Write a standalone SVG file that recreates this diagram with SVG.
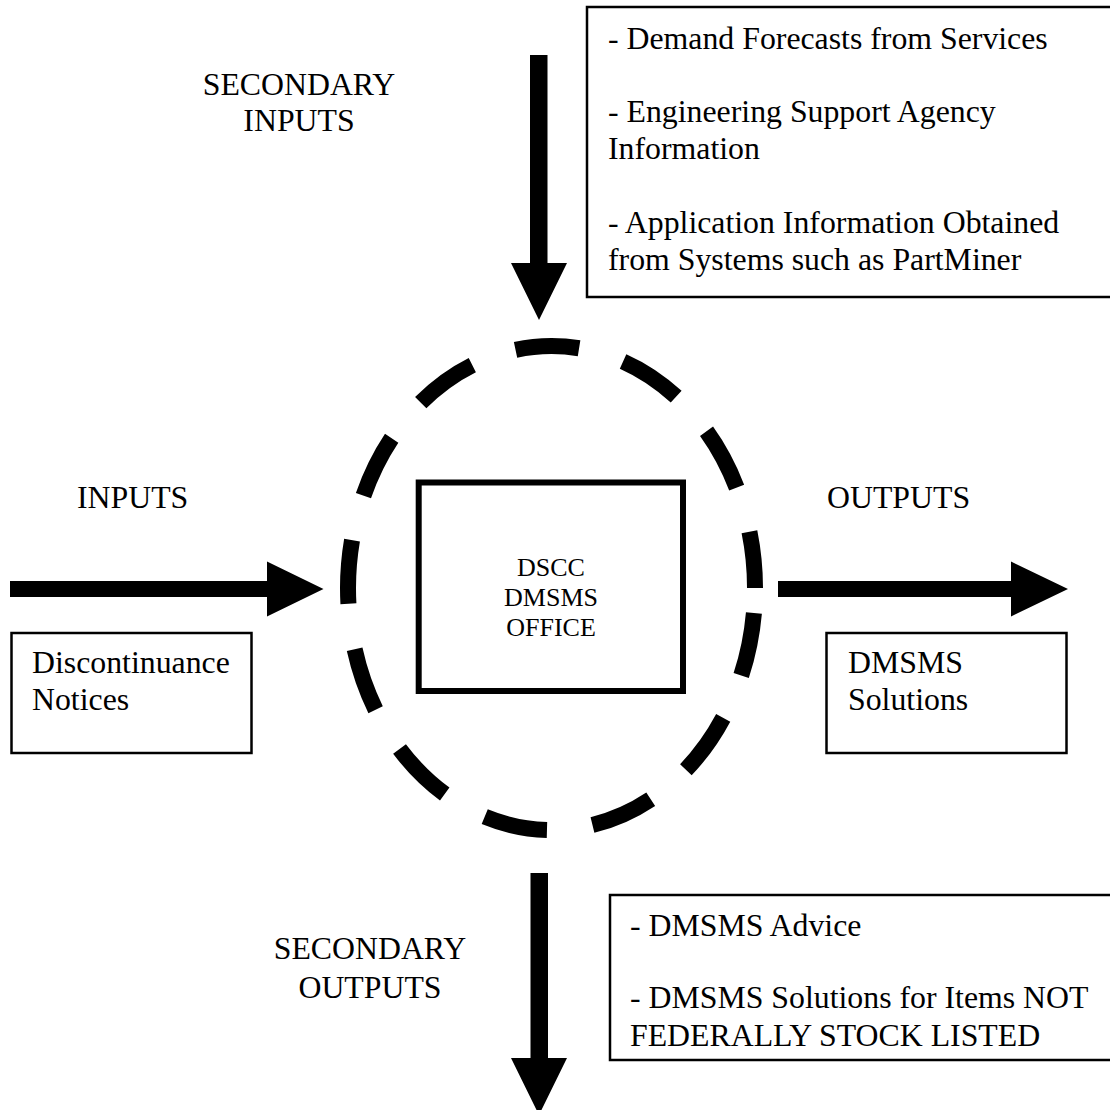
<svg xmlns="http://www.w3.org/2000/svg" width="1110" height="1110" viewBox="0 0 1110 1110">
<style>
  .t { font-family: "Liberation Serif", "Times New Roman", serif; font-size: 31.8px; fill: #000; }
  .tc { text-anchor: middle; }
  .small { font-size: 26px; }
  .box { fill: #fff; stroke: #000; stroke-width: 2.5; }
  .arrow { fill: #000; stroke: none; }
</style>
<rect x="0" y="0" width="1110" height="1110" fill="#fff"/>

<g id="connectors">
  <polygon class="arrow" points="530,55 547.5,55 547.5,263 567,263 539,320 511,263 530,263"/>
  <polygon class="arrow" points="10,581 267,581 267,561.5 323.5,589 267,616.5 267,597 10,597"/>
  <polygon class="arrow" points="778,581 1011,581 1011,561.5 1068,589 1011,616.5 1011,597 778,597"/>
  <polygon class="arrow" points="530.5,873 548,873 548,1058 567,1058 539,1115 511,1058 530.5,1058"/>
</g>

<g id="boundary">
  <ellipse cx="551.5" cy="588" rx="203.5" ry="242" fill="none" stroke="#000" stroke-width="16" stroke-dasharray="64 46" stroke-dashoffset="-25"/>
</g>

<g id="office">
  <rect x="418.7" y="482.5" width="264.3" height="208.5" fill="none" stroke="#000" stroke-width="6"/>
  <text class="t small tc" x="551" y="576">DSCC</text>
  <text class="t small tc" x="551" y="606">DMSMS</text>
  <text class="t small tc" x="551" y="636">OFFICE</text>
</g>

<g id="secondary-inputs-label">
  <text class="t tc" x="299" y="95">SECONDARY</text>
  <text class="t tc" x="299" y="131">INPUTS</text>
</g>

<g id="secondary-inputs-box">
  <rect class="box" x="587" y="7" width="540" height="290"/>
  <text class="t" x="608" y="49">- Demand Forecasts from Services</text>
  <text class="t" x="608" y="122">- Engineering Support Agency</text>
  <text class="t" x="608" y="159">Information</text>
  <text class="t" x="608" y="233">- Application Information Obtained</text>
  <text class="t" x="608" y="270">from Systems such as PartMiner</text>
</g>

<g id="inputs-label">
  <text class="t" x="77" y="508">INPUTS</text>
</g>

<g id="inputs-box">
  <rect class="box" x="11.5" y="633" width="240" height="120"/>
  <text class="t" x="32" y="673">Discontinuance</text>
  <text class="t" x="32" y="710">Notices</text>
</g>

<g id="outputs-label">
  <text class="t" x="827" y="508">OUTPUTS</text>
</g>

<g id="outputs-box">
  <rect class="box" x="826.5" y="633" width="240" height="120"/>
  <text class="t" x="848" y="673">DMSMS</text>
  <text class="t" x="848" y="710">Solutions</text>
</g>

<g id="secondary-outputs-label">
  <text class="t tc" x="370" y="959">SECONDARY</text>
  <text class="t tc" x="370" y="998">OUTPUTS</text>
</g>

<g id="secondary-outputs-box">
  <rect class="box" x="610" y="895" width="520" height="165"/>
  <text class="t" x="630" y="936">- DMSMS Advice</text>
  <text class="t" x="630" y="1008">- DMSMS Solutions for Items NOT</text>
  <text class="t" x="630" y="1046">FEDERALLY STOCK LISTED</text>
</g>
</svg>
